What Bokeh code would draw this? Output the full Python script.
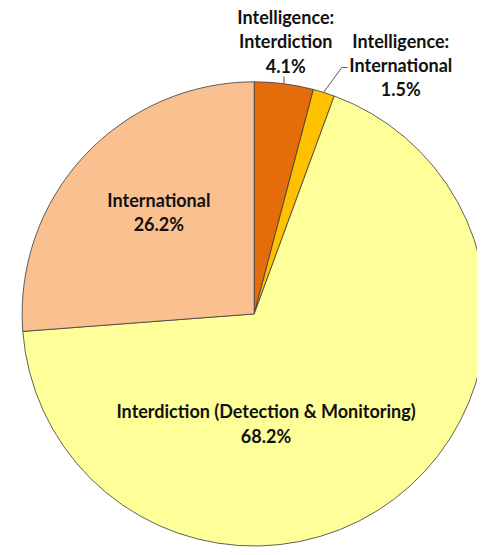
import math
from bokeh.plotting import figure
from bokeh.models import Range1d
from bokeh.core.properties import value
from bokeh.embed import file_html
from bokeh.resources import INLINE

# ---- data ----
categories = ["Intelligence: Interdiction", "Intelligence: International",
              "Interdiction (Detection & Monitoring)", "International"]
shares = [4.1, 1.5, 68.2, 26.2]
label_lines = [["Intelligence:", "Interdiction", "4.1%"],
               ["Intelligence:", "International", "1.5%"],
               ["Interdiction (Detection & Monitoring)", "68.2%"],
               ["International", "26.2%"]]
colors = ["#E46C0A", "#FFC000", "#FFFF99", "#FAC090"]

# ---- layout (reference pixel coordinates, y downward) ----
W, H = 477, 547
CX, CY, R = 258, 318, 236
label_anchor = [(290, 17), (407, 41), (270, 417), (161, 202)]
LINE_GAP = 24.5

p = figure(width=W, height=H, output_backend="svg", toolbar_location=None,
           x_range=Range1d(0, 485), y_range=Range1d(-555, 0),
           x_axis_location=None, y_axis_location=None, min_border=0)
p.grid.visible = False
p.outline_line_color = None
p.background_fill_color = "white"

total = sum(shares)
cum = 0.0
mids, starts, ends = [], [], []
for s in shares:
    a0 = math.pi / 2 - 2 * math.pi * cum / total
    cum += s
    a1 = math.pi / 2 - 2 * math.pi * cum / total
    starts.append(a0)
    ends.append(a1)
    mids.append((a0 + a1) / 2)

p.wedge(x=[CX] * len(shares), y=[-CY] * len(shares), radius=R,
        start_angle=starts, end_angle=ends, direction="clock",
        fill_color=colors, line_color="#3a3a3a", line_width=0.8)

# leader lines for the two small slices
m0 = mids[0]
p0 = (CX + R * math.cos(m0), -CY + R * math.sin(m0))
p.line(x=[p0[0], p0[0]], y=[p0[1], -77], line_color="#595959", line_width=1)
m1 = mids[1]
p1 = (CX + R * math.cos(m1), -CY + R * math.sin(m1))
p.line(x=[p1[0], 347, 353], y=[p1[1], -68, -68], line_color="#595959", line_width=1)

for (ax, ay), lines in zip(label_anchor, label_lines):
    xs = [ax] * len(lines)
    ys = [-(ay + i * LINE_GAP) for i in range(len(lines))]
    p.text(x=xs, y=ys, text=lines, text_font=value("Lato"), text_font_style="bold",
           text_font_size="18px", text_align="center", text_baseline="middle",
           text_color="#111111")

open("out.html", "w").write(file_html(p, INLINE))
